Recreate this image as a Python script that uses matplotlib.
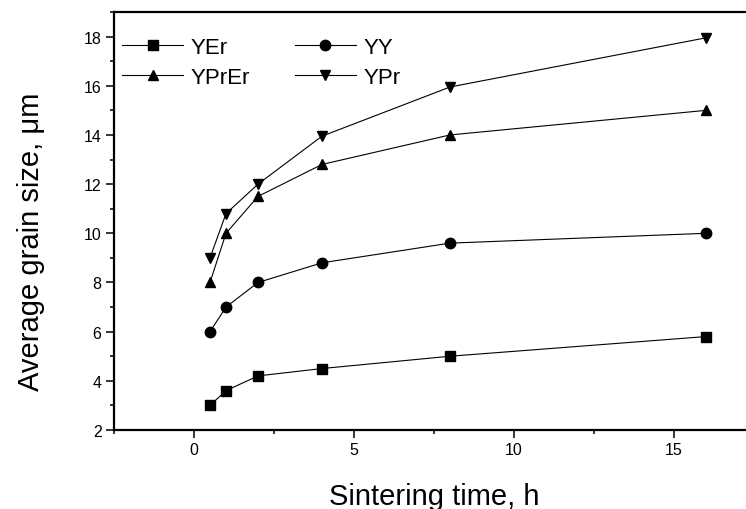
import matplotlib
matplotlib.use("Agg")
import matplotlib.pyplot as plt
from matplotlib.ticker import MultipleLocator

plt.rcParams["font.family"] = ["Liberation Sans", "DejaVu Sans"]

# sintering time (h)
time_h = [0.5, 1, 2, 4, 8, 16]

# average grain size (um)
yer = [3.0, 3.6, 4.2, 4.5, 5.0, 5.8]
yy = [6.0, 7.0, 8.0, 8.8, 9.6, 10.0]
yprer = [8.0, 10.0, 11.5, 12.8, 14.0, 15.0]
ypr = [9.0, 10.8, 12.0, 13.95, 15.95, 17.95]

series = [
    ("YEr", yer, "s", 6.5),
    ("YY", yy, "o", 7.5),
    ("YPrEr", yprer, "^", 7.5),
    ("YPr", ypr, "v", 7.5),
]

fig = plt.figure(figsize=(7.46, 5.10), dpi=100)
# axes run past the right edge of the picture, as in the cropped original
ax = fig.add_axes([114 / 746, 79 / 510, 640 / 746, 418 / 510])

handles = {}
for label, vals, marker, ms in series:
    h, = ax.plot(time_h, vals, "-", marker=marker, color="black", lw=0.8,
                 markersize=ms, label=label)
    handles[label] = h

ax.set_xlim(-2.5, 17.5)
ax.set_ylim(2, 19)
ax.xaxis.set_major_locator(MultipleLocator(5))
ax.xaxis.set_minor_locator(MultipleLocator(2.5))
ax.yaxis.set_major_locator(MultipleLocator(2))
ax.yaxis.set_minor_locator(MultipleLocator(1))
ax.tick_params(which="both", direction="out", labelsize=11.5, width=1.1, pad=3)
ax.tick_params(which="major", length=6)
ax.tick_params(which="minor", length=3)
ax.spines["right"].set_visible(False)
for s in ["left", "bottom", "top"]:
    ax.spines[s].set_linewidth(1.6)

ax.set_xlabel("Sintering time, h", fontsize=21)
ax.set_ylabel("Average grain size, \u03bcm", fontsize=21)
ax.xaxis.set_label_coords(0.5, -0.125)
ax.yaxis.set_label_coords(-0.108, 0.452)

# legend is filled row by row: YEr, YY / YPrEr, YPr
order = ["YEr", "YPrEr", "YY", "YPr"]
ax.legend([handles[k] for k in order], order, loc="upper left", ncol=2,
          frameon=False, fontsize=16, handlelength=2.75, columnspacing=2.0,
          handletextpad=0.35, labelspacing=0.4, borderpad=0.0,
          borderaxespad=0.0, bbox_to_anchor=(0.0125, 0.94))

fig.savefig("out.png", dpi=100)
